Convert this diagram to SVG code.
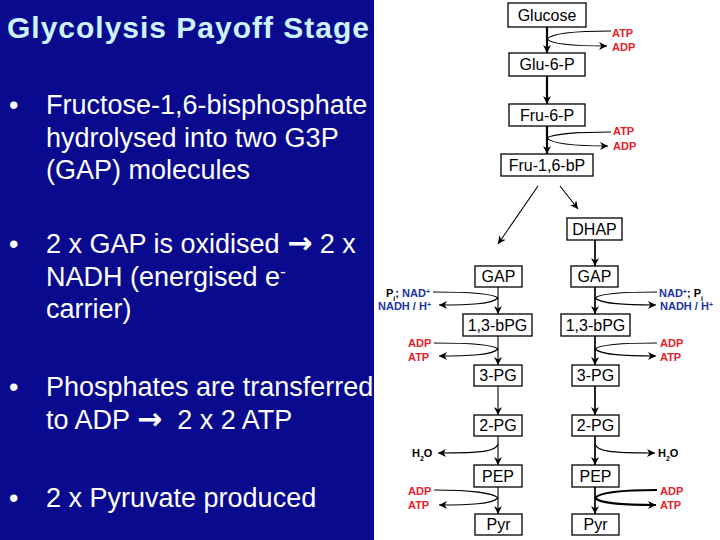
<svg xmlns="http://www.w3.org/2000/svg" width="720" height="540" viewBox="0 0 720 540">
<style>
.bul{font-family:"Liberation Sans",Arial,sans-serif;font-size:27px;fill:#ffffff}
.arr{font-family:"DejaVu Sans",sans-serif;font-size:30px;font-weight:bold}
.box{fill:#ffffff;stroke:#000000;stroke-width:1.3}
.nl{font-family:"Liberation Sans",Arial,sans-serif;font-size:16px;fill:#000000;text-anchor:middle}
.lab{font-family:"Liberation Sans",Arial,sans-serif;font-size:11px;font-weight:bold}
.red{fill:#e3202a}
.blue{fill:#2233a3}
.blk{fill:#000000}
.ln{fill:none;stroke:#000000}
.thin{stroke-width:1.1}
.mid{stroke-width:1.7}
.thick{stroke-width:2.2}
</style>
<defs>
<marker id="ah" viewBox="0 0 10 10" refX="10" refY="5" markerWidth="9" markerHeight="8" markerUnits="userSpaceOnUse" orient="auto">
<path d="M0,0 L10,5 L0,10 L3,5 z" fill="#000000"/>
</marker>
</defs>
<rect x="0" y="0" width="720" height="540" fill="#ffffff"/>
<rect x="0" y="0" width="374" height="540" fill="#0a0a8e"/>
<g id="text">
<text x="7" y="38" font-family="Liberation Sans,Arial,sans-serif" font-size="30" font-weight="bold" fill="#cdf3ff" textLength="362" lengthAdjust="spacing">Glycolysis Payoff Stage</text>
<text class="bul" x="9" y="114" font-size="22">•</text>
<text class="bul" x="46" y="114">Fructose-1,6-bisphosphate</text>
<text class="bul" x="46" y="147">hydrolysed into two G3P</text>
<text class="bul" x="46" y="179">(GAP) molecules</text>
<text class="bul" x="9" y="253" font-size="22">•</text>
<text class="bul" x="46" y="253">2 x GAP is oxidised <tspan class="arr">→</tspan> 2 x</text>
<text class="bul" x="46" y="286">NADH (energised e<tspan baseline-shift="super" font-size="17">-</tspan></text>
<text class="bul" x="46" y="318">carrier)</text>
<text class="bul" x="9" y="396" font-size="22">•</text>
<text class="bul" x="46" y="396">Phosphates are transferred</text>
<text class="bul" x="46" y="429" style="white-space:pre">to ADP <tspan class="arr">→</tspan>  2 x 2 ATP</text>
<text class="bul" x="9" y="507" font-size="22">•</text>
<text class="bul" x="46" y="507">2 x Pyruvate produced</text>
</g>
<g id="connectors">
<line class="ln thick" x1="547" y1="27" x2="547" y2="53" marker-end="url(#ah)"/>
<line class="ln thick" x1="547" y1="76" x2="547" y2="104" marker-end="url(#ah)"/>
<line class="ln thick" x1="547" y1="126" x2="547" y2="154" marker-end="url(#ah)"/>
<path class="ln thin" d="M611,31 C580,31 552,33 547,39"/>
<path class="ln thin" d="M547,39 C552,45 580,46 607,46" marker-end="url(#ah)"/>
<path class="ln thin" d="M611,132 C580,132 552,134 547,138"/>
<path class="ln thin" d="M547,138 C552,144 580,146 608,146" marker-end="url(#ah)"/>
<line class="ln thin" x1="538" y1="186" x2="498" y2="244" marker-end="url(#ah)"/>
<line class="ln thin" x1="560" y1="186" x2="578" y2="209" marker-end="url(#ah)"/>
<line class="ln thin" x1="498" y1="287" x2="498" y2="314" marker-end="url(#ah)"/>
<line class="ln thin" x1="498" y1="336" x2="498" y2="365" marker-end="url(#ah)"/>
<line class="ln thin" x1="498" y1="386" x2="498" y2="415" marker-end="url(#ah)"/>
<line class="ln thin" x1="498" y1="436" x2="498" y2="465" marker-end="url(#ah)"/>
<line class="ln thin" x1="498" y1="487" x2="498" y2="514" marker-end="url(#ah)"/>
<line class="ln mid" x1="595" y1="240" x2="595" y2="266" marker-end="url(#ah)"/>
<line class="ln mid" x1="595" y1="287" x2="595" y2="314" marker-end="url(#ah)"/>
<line class="ln mid" x1="595" y1="336" x2="595" y2="365" marker-end="url(#ah)"/>
<line class="ln mid" x1="595" y1="386" x2="595" y2="415" marker-end="url(#ah)"/>
<line class="ln mid" x1="595" y1="436" x2="595" y2="465" marker-end="url(#ah)"/>
<line class="ln mid" x1="595" y1="487" x2="595" y2="514" marker-end="url(#ah)"/>
<path class="ln thin" d="M433,292 C470,292 494,294 498,298"/>
<path class="ln thin" d="M498,298 C492,304 470,305 439,305" marker-end="url(#ah)"/>
<path class="ln thin" d="M657,292 C620,292 599,294 595,298"/>
<path class="ln thin" d="M595,298 C601,304 625,305 656,305" marker-end="url(#ah)"/>
<path class="ln thin" d="M434,343 C470,343 494,345 498,349"/>
<path class="ln thin" d="M498,349 C492,355 470,356 439,356" marker-end="url(#ah)"/>
<path class="ln thin" d="M657,343 C620,343 599,345 595,349"/>
<path class="ln thin" d="M595,349 C601,355 625,356 656,356" marker-end="url(#ah)"/>
<path class="ln thin" d="M498,444 C496,451 485,453 438,453" marker-end="url(#ah)"/>
<path class="ln thin" d="M595,444 C597,451 608,453 655,453" marker-end="url(#ah)"/>
<path class="ln thin" d="M434,490 C470,490 494,493 498,498"/>
<path class="ln thin" d="M498,498 C492,504 470,505 439,505" marker-end="url(#ah)"/>
<path class="ln thick" d="M657,490 C620,490 599,493 595,498"/>
<path class="ln thick" d="M595,498 C601,504 625,505 656,505" marker-end="url(#ah)"/>
</g>
<g id="labels">
<text class="lab red" x="612" y="37">ATP</text>
<text class="lab red" x="612" y="51">ADP</text>
<text class="lab red" x="613" y="135">ATP</text>
<text class="lab red" x="613" y="150">ADP</text>
<text class="lab blk" x="386" y="297">P<tspan baseline-shift="sub" font-size="7">i</tspan>; <tspan class="blue">NAD<tspan baseline-shift="super" font-size="7">+</tspan></tspan></text>
<text class="lab blue" x="378" y="310">NADH / H<tspan baseline-shift="super" font-size="7">+</tspan></text>
<text class="lab blue" x="659" y="297">NAD<tspan baseline-shift="super" font-size="7">+</tspan><tspan class="blk">; P<tspan baseline-shift="sub" font-size="7">i</tspan></tspan></text>
<text class="lab blue" x="660" y="310">NADH / H<tspan baseline-shift="super" font-size="7">+</tspan></text>
<text class="lab red" x="408" y="347">ADP</text>
<text class="lab red" x="408" y="361">ATP</text>
<text class="lab red" x="660" y="347">ADP</text>
<text class="lab red" x="660" y="361">ATP</text>
<text class="lab blk" x="412" y="457">H<tspan baseline-shift="sub" font-size="7">2</tspan>O</text>
<text class="lab blk" x="658" y="457">H<tspan baseline-shift="sub" font-size="7">2</tspan>O</text>
<text class="lab red" x="408" y="495">ADP</text>
<text class="lab red" x="408" y="509">ATP</text>
<text class="lab red" x="660" y="495">ADP</text>
<text class="lab red" x="660" y="509">ATP</text>
</g>
<g id="n-glucose"><rect class="box" x="508" y="3" width="78" height="24"/><text class="nl" x="547" y="21">Glucose</text></g>
<g id="n-glu6p"><rect class="box" x="509" y="53" width="76" height="23"/><text class="nl" x="547" y="70">Glu-6-P</text></g>
<g id="n-fru6p"><rect class="box" x="509" y="104" width="76" height="22"/><text class="nl" x="547" y="121">Fru-6-P</text></g>
<g id="n-fru16bp"><rect class="box" x="501" y="154" width="92" height="22"/><text class="nl" x="547" y="171">Fru-1,6-bP</text></g>
<g id="n-dhap"><rect class="box" x="567" y="218" width="55" height="22"/><text class="nl" x="594.5" y="235">DHAP</text></g>
<g id="n-gap-l"><rect class="box" x="475" y="266" width="47" height="21"/><text class="nl" x="498.5" y="282">GAP</text></g>
<g id="n-gap-r"><rect class="box" x="571" y="266" width="47" height="21"/><text class="nl" x="594.5" y="282">GAP</text></g>
<g id="n-bpg-l"><rect class="box" x="463" y="314" width="69" height="22"/><text class="nl" x="497.5" y="331">1,3-bPG</text></g>
<g id="n-bpg-r"><rect class="box" x="561" y="314" width="69" height="22"/><text class="nl" x="595.5" y="331">1,3-bPG</text></g>
<g id="n-3pg-l"><rect class="box" x="474" y="365" width="48" height="21"/><text class="nl" x="498" y="381">3-PG</text></g>
<g id="n-3pg-r"><rect class="box" x="572" y="365" width="47" height="21"/><text class="nl" x="595.5" y="381">3-PG</text></g>
<g id="n-2pg-l"><rect class="box" x="474" y="415" width="48" height="21"/><text class="nl" x="498" y="431">2-PG</text></g>
<g id="n-2pg-r"><rect class="box" x="572" y="415" width="47" height="21"/><text class="nl" x="595.5" y="431">2-PG</text></g>
<g id="n-pep-l"><rect class="box" x="474" y="465" width="48" height="22"/><text class="nl" x="498" y="482">PEP</text></g>
<g id="n-pep-r"><rect class="box" x="572" y="465" width="47" height="22"/><text class="nl" x="595.5" y="482">PEP</text></g>
<g id="n-pyr-l"><rect class="box" x="475" y="514" width="47" height="21"/><text class="nl" x="498.5" y="530">Pyr</text></g>
<g id="n-pyr-r"><rect class="box" x="572" y="514" width="47" height="21"/><text class="nl" x="595.5" y="530">Pyr</text></g>
</svg>
